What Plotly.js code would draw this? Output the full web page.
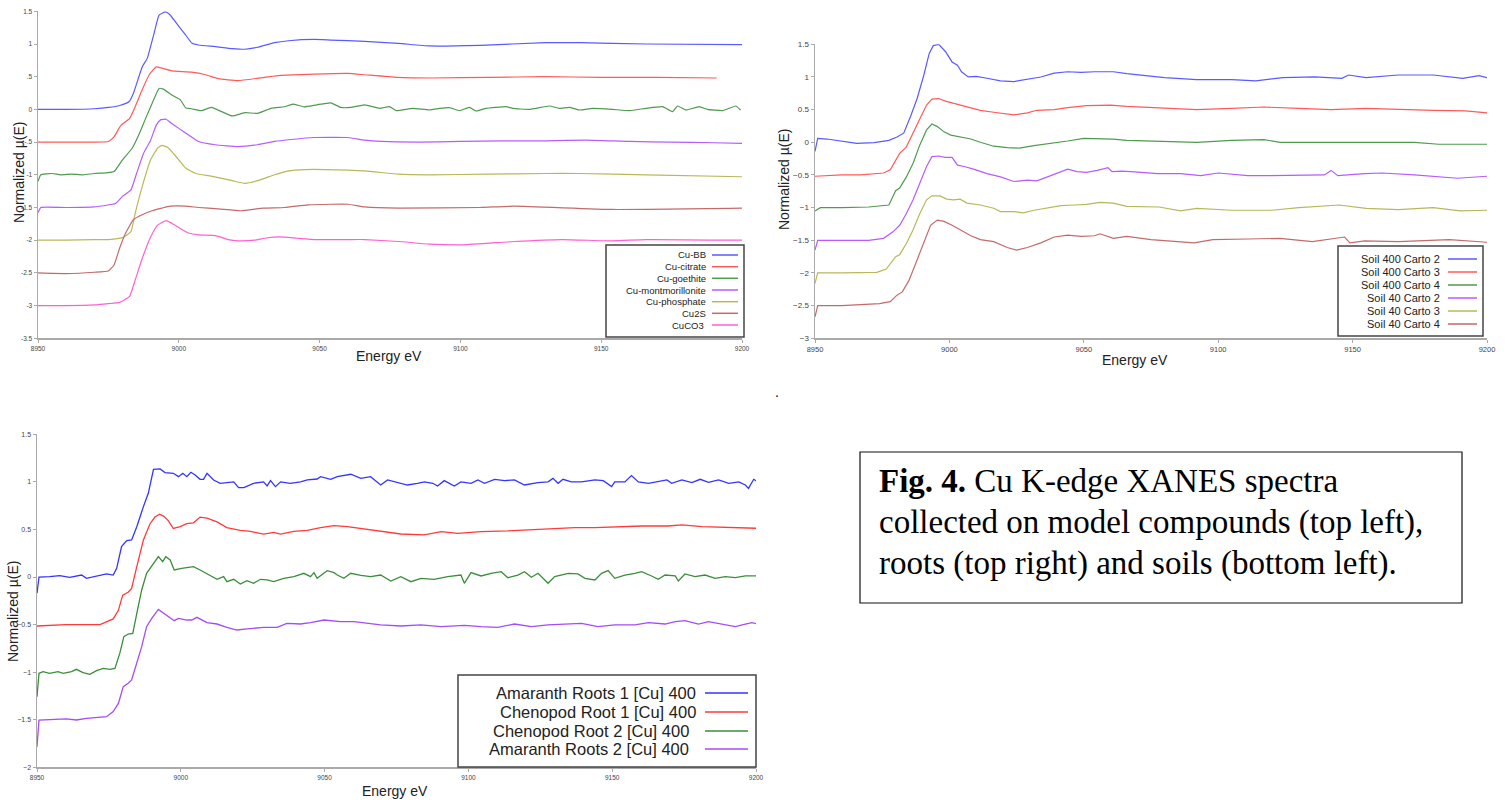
<!DOCTYPE html>
<html>
<head>
<meta charset="utf-8">
<script src="https://cdn.plot.ly/plotly-3.0.1.min.js"></script>
<style>html,body{margin:0;padding:0;background:#fff;}#chart{width:1508px;height:803px;}</style>
</head>
<body>
<div id="chart"></div>
<script>
// ---------------- DATA ----------------
// Top-left: model compounds
const tlNames = ['Cu-BB','Cu-citrate','Cu-goethite','Cu-montmorillonite','Cu-phosphate','Cu2S','CuCO3'];
const cuBB_E  = [8950,8960,8970,8975,8979,8982.4,8984,8987,8988.8,8991.2,8993,8995.3,8997,9000,9002.4,9004.7,9007,9013,9019,9023.5,9028,9034,9039,9048,9054,9066,9078,9089,9107,9130,9142,9166,9200];
const cuBB_mu = [0,0,0.01,0.03,0.06,0.12,0.26,0.65,0.78,1.16,1.44,1.49,1.44,1.27,1.14,1.01,0.985,0.96,0.93,0.92,0.95,1.02,1.05,1.07,1.06,1.04,1.01,0.97,0.98,1.02,1.02,1.0,0.99];
const cuCit_E  = [8950,8965,8975,8977,8979.5,8982.5,8984.5,8987,8989.5,8992,8994,8997.5,9004.5,9009.5,9014,9021,9030.5,9036,9048,9060,9066,9077.5,9090,9110,9130,9150,9170,9191];
const cuCit_mu = [-0.5,-0.5,-0.49,-0.42,-0.24,-0.14,0.04,0.30,0.53,0.65,0.63,0.59,0.57,0.53,0.47,0.44,0.49,0.52,0.54,0.55,0.53,0.49,0.48,0.49,0.5,0.49,0.49,0.48];
const cuGoe_E  = [8950,8951,8955,8958,8962,8966,8970,8974,8977,8980,8983.5,8986,8988,8990.5,8993,8994.5,8997.5,9000.5,9002.5,9004.5,9008,9011.5,9015,9019,9023.5,9028,9033,9037.5,9040.5,9044.5,9049,9054,9057.5,9061,9066,9071.3,9074.8,9077.2,9083.1,9089,9092.6,9096.1,9099.7,9103.2,9105.6,9109.1,9116.2,9118.6,9124.5,9131.6,9135.1,9138.7,9142.2,9147,9154,9160,9165.9,9171.8,9175.3,9177.1,9180.1,9184.8,9187.7,9193.1,9197.8,9199.5];
const cuGoe_mu = [-1.1,-1.0,-0.98,-1.0,-0.99,-1.0,-0.98,-0.97,-0.95,-0.77,-0.59,-0.37,-0.16,0.09,0.32,0.31,0.22,0.15,0.02,0.01,-0.02,0.03,-0.03,-0.1,-0.05,-0.06,0.02,0.04,0.08,0.04,0.07,0.1,0.03,0.03,0.07,0.016,0.042,-0.019,0.016,-0.009,0.016,0.027,-0.019,0.032,-0.024,0.016,0.042,0.016,0.001,0.052,0.016,0.032,-0.009,0.016,0.001,-0.019,0.016,0.042,-0.035,0.052,-0.009,0.042,0.001,-0.019,0.052,-0.009];
const cuMont_E  = [8950,8951,8960,8970,8977.5,8980,8983,8985,8987.5,8990,8992,8993.5,8995.5,8997,9000,9003.5,9007,9013,9021,9028,9034,9040,9048,9060,9066,9072,9085,9100,9115,9130,9145,9160,9175,9190,9200];
const cuMont_mu = [-1.58,-1.5,-1.5,-1.49,-1.44,-1.33,-1.23,-0.98,-0.67,-0.47,-0.24,-0.16,-0.15,-0.2,-0.29,-0.39,-0.49,-0.54,-0.57,-0.54,-0.49,-0.46,-0.43,-0.43,-0.47,-0.49,-0.5,-0.49,-0.48,-0.48,-0.47,-0.49,-0.5,-0.51,-0.52];
const cuPhos_E  = [8950,8960,8970,8975,8980,8983,8984.5,8987,8990,8992.5,8994,8996,8999,9002.5,9006,9011.5,9019,9023.5,9028,9034,9039,9045,9052,9066,9078,9089,9110,9130,9142,9166,9200];
const cuPhos_mu = [-2.0,-2.0,-1.99,-1.99,-1.96,-1.87,-1.59,-1.18,-0.77,-0.59,-0.55,-0.58,-0.72,-0.9,-0.98,-1.02,-1.09,-1.13,-1.09,-1.0,-0.94,-0.92,-0.92,-0.94,-0.99,-1.0,-0.99,-0.98,-0.98,-1.0,-1.03];
const cu2S_E  = [8950,8960,8970,8975,8977,8979,8981,8984,8987,8990.5,8994,8997,9002.5,9007,9014,9022,9030,9037.5,9046,9054,9060,9066,9078,9107,9119,9154,9200];
const cu2S_mu = [-2.5,-2.51,-2.49,-2.47,-2.38,-2.12,-1.9,-1.68,-1.61,-1.55,-1.51,-1.48,-1.48,-1.5,-1.52,-1.55,-1.51,-1.5,-1.46,-1.45,-1.45,-1.49,-1.51,-1.5,-1.48,-1.53,-1.51];
const cuCO3_E  = [8950,8960,8970,8975,8979,8982.5,8984.5,8987,8990,8992.5,8995.5,8997.5,9000.5,9003.5,9007,9013,9017.5,9021,9027,9030.5,9036,9042,9049,9060,9066,9078,9089,9101,9119,9136,9154,9166,9200];
const cuCO3_mu = [-3.0,-3.0,-2.99,-2.97,-2.95,-2.86,-2.61,-2.28,-1.95,-1.77,-1.70,-1.74,-1.82,-1.89,-1.92,-1.93,-1.99,-2.01,-2.0,-1.97,-1.95,-1.97,-1.99,-1.99,-1.99,-2.02,-2.06,-2.07,-2.02,-1.99,-2.01,-1.99,-2.0];

// Top-right: soils
const trNames = ['Soil 400 Carto 2','Soil 400 Carto 3','Soil 400 Carto 4','Soil 40 Carto 2','Soil 40 Carto 3','Soil 40 Carto 4'];
const s400c2_E  = [8950,8951,8954.5,8960.5,8965.5,8972,8977.5,8980.5,8983,8985.5,8988,8990.5,8992.5,8994,8996,8998.5,9001,9003,9004.5,9007,9010,9014,9019,9024,9029,9034,9039,9044,9049,9054,9061,9066,9080,9092,9105,9114,9124,9136,9146,9148.5,9155,9167,9180,9191,9197,9200];
const s400c2_mu = [-0.14,0.06,0.05,0.01,-0.015,-0.005,0.03,0.08,0.14,0.39,0.67,1.03,1.36,1.48,1.5,1.39,1.23,1.18,1.08,1.0,1.01,0.98,0.94,0.93,0.96,1.0,1.06,1.08,1.07,1.08,1.08,1.05,0.99,0.96,0.96,0.94,0.99,1.0,0.98,1.03,0.99,1.03,1.03,0.98,1.02,0.99];
const s400c3_E  = [8950,8960,8967,8975.5,8978,8980,8981.5,8984,8986.5,8989,8991.5,8993.5,8996,8998.5,9001.5,9006.5,9011.5,9016.5,9024,9029,9032.5,9039,9044,9051,9060,9066,9080,9092,9105,9117,9130,9142,9155,9167,9180,9192,9200];
const s400c3_mu = [-0.52,-0.5,-0.5,-0.47,-0.42,-0.27,-0.17,-0.07,0.14,0.34,0.57,0.66,0.67,0.63,0.6,0.55,0.49,0.46,0.42,0.45,0.49,0.5,0.53,0.56,0.57,0.55,0.52,0.5,0.52,0.54,0.52,0.5,0.52,0.5,0.49,0.48,0.45];
const s400c4_E  = [8950,8952,8960,8970,8977.5,8978.5,8980,8981.5,8984,8986.5,8989,8991.5,8993.5,8995.5,8998,9000.5,9004,9008,9011.5,9016.5,9021.5,9026,9031.5,9037.5,9044,9050,9054,9061,9066,9080,9092,9105,9117,9123,9135,9148,9160,9173,9182,9200];
const s400c4_mu = [-1.05,-1.0,-1.0,-0.99,-0.96,-0.86,-0.74,-0.70,-0.53,-0.32,-0.04,0.19,0.28,0.24,0.16,0.11,0.08,0.05,0.0,-0.06,-0.08,-0.09,-0.05,-0.02,0.02,0.06,0.06,0.05,0.03,0.01,0.0,0.03,0.04,0.0,0.0,0.0,0.01,0.0,-0.03,-0.03];
const s40c2_E  = [8950,8951,8960,8970,8975.5,8979,8981.5,8984,8986.5,8989,8991.5,8993.5,8996,8998.5,9001,9003,9005.5,9009,9014,9019,9024,9029,9032.5,9036.5,9040,9044,9047.5,9051,9055,9059,9060.5,9064,9067.5,9077.5,9086,9093.5,9100,9105,9111,9117,9130,9139.5,9142,9144.5,9154.5,9161,9173,9189,9200];
const s40c2_mu = [-1.65,-1.5,-1.5,-1.5,-1.47,-1.37,-1.27,-1.09,-0.88,-0.63,-0.37,-0.22,-0.21,-0.23,-0.23,-0.35,-0.37,-0.41,-0.48,-0.53,-0.6,-0.58,-0.59,-0.53,-0.47,-0.41,-0.45,-0.46,-0.43,-0.39,-0.45,-0.44,-0.45,-0.48,-0.48,-0.51,-0.47,-0.49,-0.51,-0.51,-0.5,-0.5,-0.43,-0.51,-0.48,-0.47,-0.5,-0.55,-0.52];
const s40c3_E  = [8950,8951,8960,8973,8976.5,8978.5,8980,8981.5,8984,8986.5,8989,8991.5,8993.5,8996.5,8999,9001.5,9004,9006.5,9011.5,9016.5,9019,9024,9027.5,9031.5,9036.5,9041.5,9046.5,9051,9056,9061,9066,9078,9086,9092,9105,9120,9130,9145,9155,9167,9180,9190,9200];
const s40c3_mu = [-2.16,-2.0,-2.0,-1.99,-1.94,-1.83,-1.75,-1.72,-1.55,-1.34,-1.09,-0.88,-0.82,-0.82,-0.87,-0.88,-0.87,-0.93,-0.96,-1.01,-1.06,-1.06,-1.08,-1.04,-1.01,-0.97,-0.96,-0.95,-0.92,-0.93,-0.98,-0.99,-1.05,-1.01,-1.04,-1.04,-1.0,-0.96,-1.01,-1.03,-1.0,-1.05,-1.04];
const s40c4_E  = [8950,8951,8960,8967,8974,8978,8980.5,8982.5,8985,8987.5,8990.5,8993,8995.5,8998,9001,9004,9008,9011.5,9016.5,9021.5,9025,9029,9034,9039,9044,9049,9054,9056,9061,9066,9075,9091,9098,9111,9123,9135,9144.5,9147,9149,9154.5,9167,9186,9200];
const s40c4_mu = [-2.67,-2.5,-2.5,-2.49,-2.47,-2.44,-2.34,-2.29,-2.11,-1.85,-1.55,-1.27,-1.19,-1.21,-1.27,-1.34,-1.43,-1.49,-1.52,-1.61,-1.65,-1.61,-1.54,-1.45,-1.42,-1.44,-1.43,-1.40,-1.47,-1.44,-1.49,-1.54,-1.49,-1.48,-1.47,-1.52,-1.47,-1.45,-1.54,-1.51,-1.52,-1.49,-1.53];

// Bottom-left: roots
const blNames = ['Amaranth Roots 1 [Cu] 400','Chenopod Root 1 [Cu] 400','Chenopod Root 2 [Cu] 400','Amaranth Roots 2 [Cu] 400'];
const am1_E  = [8950,8950.7,8954.4,8957.9,8961.4,8965.5,8967.2,8970.7,8974.2,8976.5,8977.7,8979.4,8981.2,8982.9,8984.7,8987,8988.7,8990.5,8992.8,8994.5,8997.4,8999.2,9000.7,9002.1,9003.5,9005,9006.7,9007.9,9009.1,9011.4,9013.7,9018.4,9020.1,9021.9,9025.3,9028.8,9030,9031.2,9032.9,9034.7,9038.1,9041.6,9044,9047.4,9048.6,9052.1,9054.4,9059.1,9062.6,9066,9069.5,9071.9,9075.3,9078.8,9082.3,9084.7,9087.6,9089.3,9091.6,9095.1,9097.4,9100.9,9103.3,9105.6,9109.1,9112.6,9116,9119.5,9124.2,9127.7,9129.4,9131.2,9132.9,9135.8,9139.3,9144,9146.9,9149.8,9150.9,9154.4,9156.7,9159.1,9162.6,9166,9169,9170.7,9174.2,9177.7,9180.6,9183.5,9187,9190.5,9194,9196.3,9197.4,9199.2,9200.6];
const am1_mu = [-0.17,0.0,0.004,0.014,-0.003,0.021,-0.014,0.011,0.032,0.021,0.091,0.319,0.382,0.389,0.529,0.74,0.88,1.132,1.136,1.097,1.09,1.055,1.09,1.055,1.101,1.073,1.027,1.027,1.09,1.02,0.985,1.0,0.939,0.939,0.985,1.0,0.957,1.013,0.95,1.0,0.985,1.0,1.02,1.03,1.055,1.027,1.055,1.08,1.037,1.055,0.967,1.02,0.992,0.967,0.985,1.0,0.985,0.957,1.013,0.957,1.0,0.985,1.02,0.985,1.027,1.013,1.02,0.967,0.992,1.0,1.037,0.985,1.027,1.0,1.0,1.02,1.013,0.95,1.0,1.0,1.066,1.0,0.985,1.0,1.02,0.985,1.02,0.992,1.027,0.995,1.02,0.985,1.0,0.967,0.932,1.027,1.0];
const ch1_E  = [8950,8960,8971.9,8976.5,8978.3,8979.8,8981.7,8982.9,8984.7,8987,8989.3,8991,8992.6,8994,8995.7,8997.4,8999.8,9002.1,9004.4,9006.7,9009.1,9012.6,9016,9020.7,9024.2,9028.8,9032.3,9034.7,9039.3,9044,9048.6,9053.3,9057.9,9062.6,9067.2,9076.5,9084.7,9090.5,9096.3,9104.4,9113.7,9119.5,9127.7,9137,9144,9150.9,9160.2,9169.5,9174.2,9181.2,9190.5,9200.6];
const ch1_mu = [-0.515,-0.5,-0.5,-0.44,-0.35,-0.19,-0.16,-0.12,0.11,0.39,0.56,0.63,0.66,0.64,0.59,0.51,0.53,0.56,0.57,0.63,0.62,0.58,0.52,0.49,0.48,0.45,0.47,0.45,0.48,0.49,0.52,0.54,0.53,0.51,0.49,0.452,0.442,0.477,0.459,0.477,0.484,0.494,0.501,0.519,0.519,0.529,0.536,0.536,0.547,0.529,0.522,0.512];
const ch2_E  = [8950,8950.7,8952.1,8954.4,8957.3,8959.1,8962,8963.7,8966,8968.4,8970.7,8973,8975.3,8977.1,8978.8,8980.2,8981.7,8983.3,8984.7,8986.4,8988.1,8990.2,8992.2,8993.7,8994.8,8996.3,8997.7,9000.3,9004.4,9006.7,9009.1,9012.6,9014.9,9016,9018.4,9020.7,9023,9025.3,9027.7,9030,9032.3,9035.8,9039.3,9042.8,9045.1,9046.3,9047.4,9050.9,9053.3,9054.4,9056.7,9059.1,9062.6,9066,9069.5,9073,9076.5,9080,9083.5,9088.1,9092.8,9097.4,9098.6,9100.9,9104.4,9107.9,9111.4,9113.7,9117.2,9119.5,9121.9,9124.2,9127.7,9130,9134.7,9138.1,9140.5,9144,9146.3,9148.6,9150.9,9154.4,9157.9,9160.2,9163.7,9166,9168.4,9171.9,9173,9175.3,9178.8,9182.3,9185.8,9189.3,9192.8,9196.3,9200.6];
const ch2_mu = [-1.258,-1.012,-0.995,-1.012,-0.995,-1.012,-0.995,-0.97,-1.005,-1.023,-0.984,-0.96,-0.97,-0.96,-0.8,-0.627,-0.599,-0.592,-0.382,-0.136,0.039,0.126,0.214,0.161,0.214,0.179,0.074,0.091,0.109,0.074,0.032,-0.024,0.004,-0.049,-0.024,-0.073,-0.038,-0.066,-0.024,-0.031,-0.049,-0.014,0.004,0.039,0.004,0.046,-0.014,0.067,0.046,0.021,-0.014,0.039,0.018,0.004,0.021,-0.042,0.004,-0.049,-0.014,-0.024,0.004,0.021,-0.066,0.046,0.011,0.039,0.056,-0.007,0.021,0.056,-0.003,0.039,-0.066,0.004,0.039,0.032,-0.014,-0.031,0.039,0.067,-0.014,0.021,0.039,0.056,0.011,-0.024,0.021,0.011,-0.042,0.032,0.004,0.021,-0.014,0.004,-0.007,0.011,0.011];
const am2_E  = [8950,8950.7,8960.2,8963.7,8967.2,8971.9,8974.2,8976.5,8978.3,8980,8981.7,8982.9,8984.7,8986.4,8988.1,8989.9,8992.2,8994,8995.7,8997.7,8999.2,9002.1,9003.8,9005.6,9009.1,9012.6,9016,9019.5,9023,9026.5,9028.8,9033.5,9036.9,9041.6,9045.1,9049.8,9053.3,9055.6,9060.2,9064.9,9069.5,9076.5,9083.5,9090.5,9098.6,9104.4,9110.2,9116,9121.9,9127.7,9133.5,9139.3,9145.1,9150.9,9157.9,9162.6,9168.4,9171.9,9175.3,9180,9183.5,9188.1,9192.8,9196.3,9198.6,9200.6];
const am2_mu = [-1.783,-1.503,-1.492,-1.503,-1.485,-1.478,-1.468,-1.415,-1.328,-1.152,-1.117,-1.082,-0.907,-0.732,-0.522,-0.434,-0.34,-0.382,-0.417,-0.459,-0.434,-0.452,-0.452,-0.424,-0.48,-0.494,-0.529,-0.557,-0.546,-0.539,-0.529,-0.529,-0.487,-0.494,-0.48,-0.452,-0.462,-0.469,-0.469,-0.487,-0.504,-0.515,-0.504,-0.522,-0.508,-0.522,-0.529,-0.494,-0.522,-0.504,-0.494,-0.487,-0.522,-0.504,-0.504,-0.48,-0.494,-0.469,-0.459,-0.494,-0.469,-0.494,-0.522,-0.494,-0.48,-0.494];

const xTicks = [8950,9000,9050,9100,9150,9200];
const tlYTicks = [1.5,1,0.5,0,-0.5,-1,-1.5,-2,-2.5,-3,-3.5];
const tlYLabels = ['1.5','1','.5','0','-.5','-1','-1.5','-2','-2.5','-3','-3.5'];
const trYTicks = [1.5,1,0.5,0,-0.5,-1,-1.5,-2,-2.5,-3];
const blYTicks = [1.5,1,0.5,0,-0.5,-1,-1.5,-2];
const axisTitleX = 'Energy eV';
const axisTitleY = 'Normalized µ(E)';
const captionLines = ['<b>Fig. 4.</b> Cu K-edge XANES spectra','collected on model compounds (top left),','roots (top right) and soils (bottom left).'];

// ---------------- STYLE / LAYOUT ----------------
const W = 1508, H = 803;
const X = p => p / W;
const Y = p => 1 - p / H;

const tlColors = ['#5a5aff','#ff5a5a','#4f9a4f','#b65cff','#b8b85a','#c46a6a','#ff5fd0'];
const trColors = ['#5a5aff','#ff5a5a','#4f9a4f','#b65cff','#b8b85a','#c46a6a'];
const blColors = ['#3434ff','#ff3a3a','#3a8e3a','#a44cf5'];

const tlSeries = [[cuBB_E,cuBB_mu],[cuCit_E,cuCit_mu],[cuGoe_E,cuGoe_mu],[cuMont_E,cuMont_mu],[cuPhos_E,cuPhos_mu],[cu2S_E,cu2S_mu],[cuCO3_E,cuCO3_mu]];
const trSeries = [[s400c2_E,s400c2_mu],[s400c3_E,s400c3_mu],[s400c4_E,s400c4_mu],[s40c2_E,s40c2_mu],[s40c3_E,s40c3_mu],[s40c4_E,s40c4_mu]];
const blSeries = [[am1_E,am1_mu],[ch1_E,ch1_mu],[ch2_E,ch2_mu],[am2_E,am2_mu]];

const traces = [];
tlSeries.forEach((s,i)=>traces.push({x:s[0],y:s[1],name:tlNames[i],type:'scatter',mode:'lines',xaxis:'x',yaxis:'y',line:{color:tlColors[i],width:1.2,shape:'spline',smoothing:0.4},showlegend:false}));
trSeries.forEach((s,i)=>traces.push({x:s[0],y:s[1],name:trNames[i],type:'scatter',mode:'lines',xaxis:'x2',yaxis:'y2',line:{color:trColors[i],width:1.2},showlegend:false}));
blSeries.forEach((s,i)=>traces.push({x:s[0],y:s[1],name:blNames[i],type:'scatter',mode:'lines',xaxis:'x3',yaxis:'y3',line:{color:blColors[i],width:1.3},showlegend:false}));

const axCommon = {showline:true,linecolor:'#aaaaaa',linewidth:1.5,ticks:'outside',ticklen:3,tickcolor:'#aaaaaa',
  showgrid:false,zeroline:false,tickfont:{family:'Liberation Sans, Arial, sans-serif',size:6.5,color:'#444'},fixedrange:true};

const layout = {
  width:W,height:H,margin:{l:0,r:0,t:0,b:0},paper_bgcolor:'#fff',plot_bgcolor:'rgba(0,0,0,0)',showlegend:false,
  xaxis: Object.assign({},axCommon,{domain:[X(38),X(742)],anchor:'y',range:[8950,9200],tickvals:xTicks}),
  yaxis: Object.assign({},axCommon,{domain:[Y(338.3),Y(11.3)],anchor:'x',range:[-3.5,1.5],tickvals:tlYTicks,ticktext:tlYLabels}),
  xaxis2: Object.assign({},axCommon,{domain:[X(815),X(1487)],anchor:'y2',range:[8950,9200],tickvals:xTicks,tickfont:{family:'Liberation Sans, Arial, sans-serif',size:7.5,color:'#444'}}),
  yaxis2: Object.assign({},axCommon,{domain:[Y(338.3),Y(44.3)],anchor:'x2',range:[-3,1.5],tickvals:trYTicks,tickfont:{family:'Liberation Sans, Arial, sans-serif',size:8,color:'#444'}}),
  xaxis3: Object.assign({},axCommon,{domain:[X(37),X(756)],anchor:'y3',range:[8950,9200],tickvals:xTicks}),
  yaxis3: Object.assign({},axCommon,{domain:[Y(767.3),Y(434.3)],anchor:'x3',range:[-2,1.5],tickvals:blYTicks,tickfont:{family:'Liberation Sans, Arial, sans-serif',size:7,color:'#444'}}),
  shapes:[],annotations:[]
};

const titleFont = {family:'Liberation Sans, Arial, sans-serif',size:14,color:'#222'};
function addTitles(cx, cy, yx, yy){
  layout.annotations.push({xref:'paper',yref:'paper',x:X(cx),y:Y(cy),text:axisTitleX,showarrow:false,xanchor:'center',yanchor:'middle',font:titleFont});
  layout.annotations.push({xref:'paper',yref:'paper',x:X(yx),y:Y(yy),text:axisTitleY,showarrow:false,xanchor:'center',yanchor:'middle',textangle:-90,font:titleFont});
}
addTitles(389,356,19,173);
addTitles(1135,360,784,180);
addTitles(395,791,13,612);

// custom legends (text right-aligned, sample to the right)
function addLegend(box, names, colors, textRight, lineX0, lineX1, rowY, fontSize){
  layout.shapes.push({type:'rect',xref:'paper',yref:'paper',x0:X(box[0]),x1:X(box[1]),y0:Y(box[3]),y1:Y(box[2]),
    line:{color:'#444',width:1.5},fillcolor:'#ffffff',layer:'above'});
  names.forEach((n,i)=>{
    layout.annotations.push({xref:'paper',yref:'paper',x:X(textRight[i]),y:Y(rowY[i]),text:n,showarrow:false,xanchor:'right',yanchor:'middle',
      font:{family:'Liberation Sans, Arial, sans-serif',size:fontSize,color:'#222'}});
    layout.shapes.push({type:'line',xref:'paper',yref:'paper',x0:X(lineX0),x1:X(lineX1),y0:Y(rowY[i]),y1:Y(rowY[i]),
      line:{color:colors[i],width:1.5},layer:'above'});
  });
}
addLegend([606,744,245,337], tlNames, tlColors, [708,708,708,708,708,708,706], 712, 738, [255,266.7,278.3,290,301.7,313.3,325], 9.5);
addLegend([1338,1483,246,336], trNames, trColors, [1442,1442,1442,1442,1442,1442], 1448, 1477, [259,272,285,298,311,324], 11);
addLegend([458,756,675,767], blNames, blColors, [698,698,691,691], 705, 748, [693,712,731,749], 16.5);

// caption box
layout.shapes.push({type:'rect',xref:'paper',yref:'paper',x0:X(860),x1:X(1462),y0:Y(603),y1:Y(452),line:{color:'#111',width:1.2},fillcolor:'rgba(0,0,0,0)'});
[481,522,563].forEach((yy,i)=>{
  layout.annotations.push({xref:'paper',yref:'paper',x:X(877),y:Y(yy),text:captionLines[i],showarrow:false,xanchor:'left',yanchor:'middle',align:'left',
    font:{family:'Liberation Serif, Times New Roman, serif',size:33,color:'#000'}});
});
// stray dot between panels
layout.annotations.push({xref:'paper',yref:'paper',x:X(777),y:Y(392),text:'.',showarrow:false,xanchor:'center',yanchor:'middle',font:{family:'Liberation Sans, Arial, sans-serif',size:14,color:'#000'}});

Plotly.newPlot('chart', traces, layout, {displayModeBar:false,staticPlot:true});
</script>
</body>
</html>
